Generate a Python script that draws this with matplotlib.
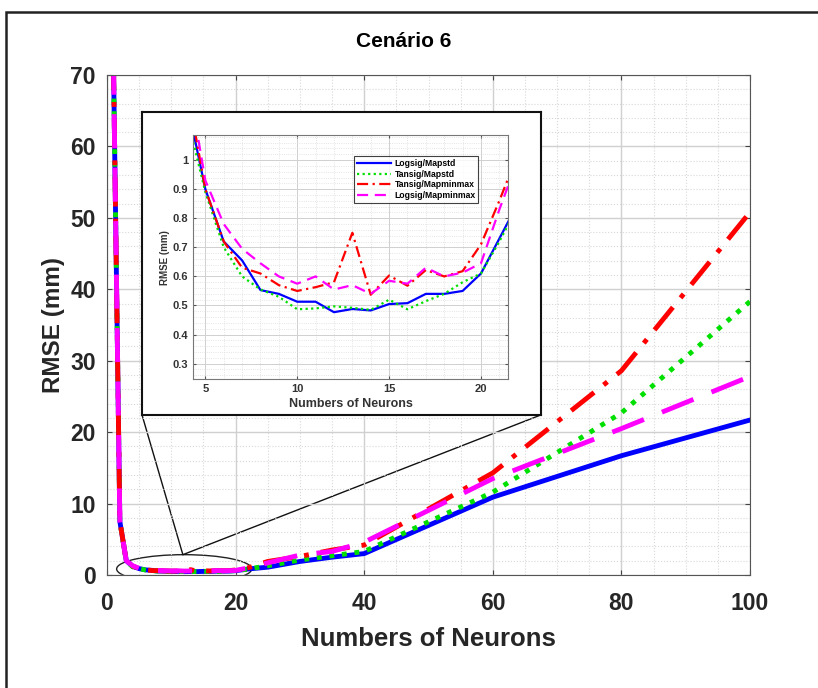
import matplotlib
matplotlib.use("Agg")
import matplotlib.pyplot as plt
from matplotlib.patches import Ellipse, ConnectionPatch, Rectangle
from matplotlib.ticker import MultipleLocator

# neurons tested
neurons = [1, 2, 3, 4, 5, 6, 7, 8, 9, 10, 11, 12, 13, 14, 15, 16, 17, 18, 19, 20,
           21, 22, 25, 30, 35, 40, 60, 80, 100]

# RMSE (mm) for each configuration
logsig_mapstd = [72, 7.5, 2.0, 1.2, 0.90, 0.72, 0.655, 0.553, 0.54, 0.513, 0.513, 0.477,
                 0.488, 0.483, 0.505, 0.508, 0.54, 0.54, 0.55, 0.61, 0.73, 0.85,
                 1.1, 1.9, 2.5, 3.0, 10.9, 16.7, 21.7]
tansig_mapstd = [72, 7.5, 2.0, 1.15, 0.89, 0.70, 0.60, 0.555, 0.53, 0.487, 0.49, 0.497,
                 0.492, 0.485, 0.52, 0.487, 0.515, 0.54, 0.58, 0.61, 0.72, 0.84,
                 1.3, 2.1, 2.7, 3.3, 11.6, 22.7, 38.3]
tansig_mapminmax = [72, 7.5, 2.0, 1.25, 0.90, 0.72, 0.63, 0.61, 0.57, 0.55, 0.563, 0.58,
                    0.75, 0.537, 0.603, 0.568, 0.622, 0.60, 0.618, 0.71, 0.86, 1.02,
                    1.9, 2.6, 3.5, 4.2, 14.3, 28.6, 50.8]
logsig_mapminmax = [72, 7.5, 2.0, 1.3, 0.93, 0.78, 0.695, 0.645, 0.60, 0.575, 0.60, 0.555,
                    0.57, 0.54, 0.585, 0.575, 0.63, 0.60, 0.613, 0.645, 0.83, 1.0,
                    1.7, 2.8, 3.3, 4.6, 13.5, 20.5, 27.8]

labels = ['Logsig/Mapstd', 'Tansig/Mapstd', 'Tansig/Mapminmax', 'Logsig/Mapminmax']
series = [logsig_mapstd, tansig_mapstd, tansig_mapminmax, logsig_mapminmax]
colors = ['#0000ff', '#00e000', '#ff0000', '#ff00ff']
styles = ['-', (0, (1, 1.6)), (0, (6, 2.5, 1, 2.5)), (0, (7, 4))]
inset_styles = ['-', (0, (1, 1.5)), (0, (5, 2, 1, 2)), (0, (5, 3))]

plt.rcParams['font.family'] = ['Liberation Sans', 'DejaVu Sans']
plt.rcParams['font.weight'] = 'bold'

fig = plt.figure(figsize=(8.18, 6.88), dpi=100)

# outer frame of the screenshot (only top and left visible)
fig.add_artist(Rectangle((0.007, -0.1), 1.2, 1.083, transform=fig.transFigure,
                         fill=False, edgecolor='#222222', linewidth=1.8))

ax = fig.add_axes([0.1308, 0.1642, 0.7861, 0.7268])
for y, c, ls in zip(series, colors, styles):
    ax.plot(neurons, y, color=c, linestyle=ls, linewidth=3.5)

ax.set_xlim(0, 100)
ax.set_ylim(0, 70)
ax.xaxis.set_major_locator(MultipleLocator(20))
ax.xaxis.set_minor_locator(MultipleLocator(5))
ax.yaxis.set_major_locator(MultipleLocator(10))
ax.yaxis.set_minor_locator(MultipleLocator(2))
ax.grid(True, which='major', color='#d0d0d0', linewidth=1)
ax.grid(True, which='minor', color='#d8d8d8', linestyle=':', linewidth=0.8)
ax.tick_params(which='both', direction='in', top=True, right=True, colors='#444444',
               labelcolor='#262626', labelsize=16.5)
ax.tick_params(axis='x', pad=12)
ax.tick_params(axis='y', pad=8)
ax.tick_params(which='minor', length=0)
for sp in ax.spines.values():
    sp.set_color('#555555')
ax.set_xlabel('Numbers of Neurons', fontsize=18.5, fontweight='bold', color='#262626',
              labelpad=9)
ax.set_ylabel('RMSE (mm)', fontsize=17.5, fontweight='bold', color='#262626')

fig.text(0.493, 0.94, 'Cenário 6', ha='center', va='center', fontsize=15,
         fontweight='bold', family=['Liberation Sans Narrow', 'Liberation Sans'])

# zoom ellipse
ax.add_patch(Ellipse((12, 0.85), 21, 4.0, fill=False, edgecolor='#222222', linewidth=1))

# white box holding the inset
box = fig.add_axes([0.1736, 0.397, 0.4878, 0.44])
box.set_xticks([])
box.set_yticks([])
for sp in box.spines.values():
    sp.set_color('#111111')
    sp.set_linewidth(1.5)

for corner in [(0, 0), (1, 0)]:
    con = ConnectionPatch(xyA=(11.8, 2.85), coordsA=ax.transData,
                          xyB=corner, coordsB=box.transAxes,
                          color='#111111', linewidth=1)
    ax.add_artist(con)

ins = fig.add_axes([0.236, 0.449, 0.385, 0.3547])
for y, c, ls, lab in zip(series, colors, inset_styles, labels):
    ins.plot(neurons, y, color=c, linestyle=ls, linewidth=1.6, label=lab)
ins.set_xlim(4.33, 21.47)
ins.set_ylim(0.247, 1.086)
ins.xaxis.set_major_locator(MultipleLocator(5))
ins.xaxis.set_minor_locator(MultipleLocator(1))
ins.yaxis.set_minor_locator(MultipleLocator(0.02))
ins.set_yticks([0.3, 0.4, 0.5, 0.6, 0.7, 0.8, 0.9, 1.0])
ins.set_yticklabels(['0.3', '0.4', '0.5', '0.6', '0.7', '0.8', '0.9', '1'])
ins.grid(True, which='major', color='#d0d0d0', linewidth=0.7)
ins.grid(True, which='minor', color='#dcdcdc', linestyle=':', linewidth=0.6)
ins.tick_params(which='both', direction='in', top=True, right=True, colors='#555555',
                labelcolor='#333333', labelsize=8, length=2)
ins.tick_params(which='minor', length=0)
for sp in ins.spines.values():
    sp.set_color('#777777')
ins.set_xlabel('Numbers of Neurons', fontsize=9, fontweight='bold', color='#333333', labelpad=3)
ins.set_ylabel('RMSE (mm)', fontsize=7, fontweight='bold', color='#333333', labelpad=2)
leg = ins.legend(loc='upper right', bbox_to_anchor=(0.92, 0.93), fontsize=6.2,
                 frameon=True, fancybox=False, edgecolor='#111111', handlelength=4,
                 borderpad=0.3, labelspacing=0.2, handletextpad=0.4)
leg.get_frame().set_linewidth(0.8)
for t in leg.get_texts():
    t.set_fontweight('bold')

fig.savefig('out.png', dpi=100)
